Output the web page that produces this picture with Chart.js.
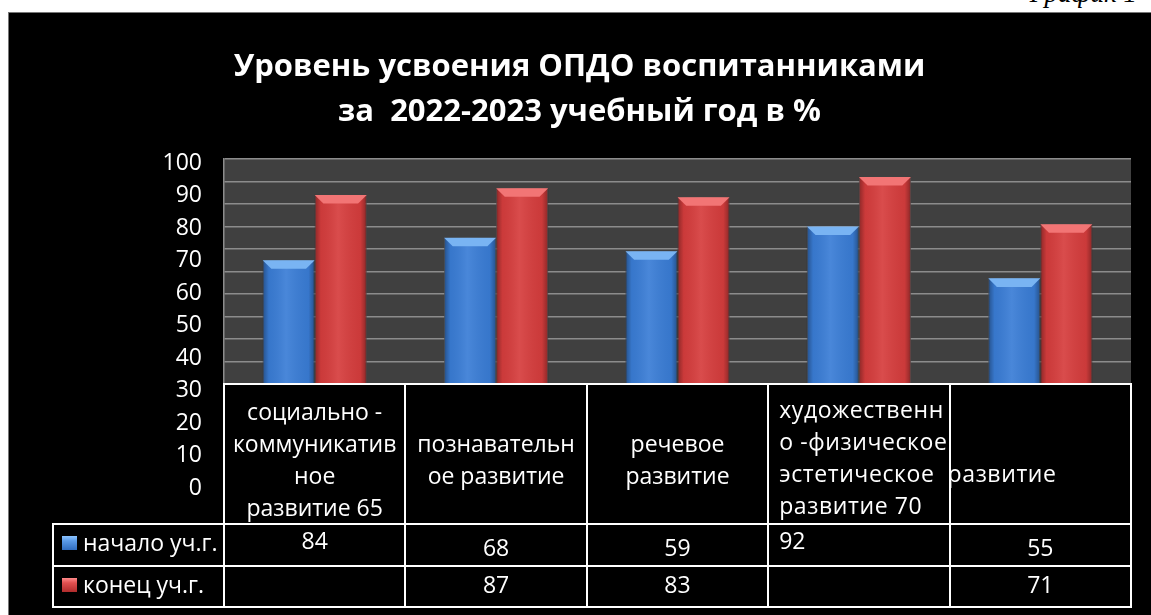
<!DOCTYPE html>
<html>
<head>
<meta charset="utf-8">
<script src="https://cdn.jsdelivr.net/npm/chart.js@4.4.0/dist/chart.umd.min.js"></script>
<style>
html,body{margin:0;padding:0;background:#fff;}
body{width:1151px;height:615px;position:relative;overflow:hidden;font-family:"Open Sans",sans-serif;}
#caption{position:absolute;right:14px;top:-20px;font:italic 27px "Liberation Serif",serif;color:#000;line-height:27px;}
#frame{position:absolute;left:8px;top:12px;width:1143px;height:603px;background:#000;box-shadow:inset 1px 1px 0 #777;}
#main{position:absolute;left:0;top:0;}
#tickWrap{position:absolute;left:114px;top:121px;width:82px;height:385px;}
.cell{position:absolute;box-sizing:border-box;border:2px solid #fff;color:#fff;font-size:23px;}
.head{display:flex;flex-direction:column;justify-content:center;padding-top:10px;text-align:center;line-height:32px;}
.head.left{justify-content:flex-start;text-align:left;padding-left:10px;padding-top:8px;letter-spacing:0.6px;}
.head.flush{padding-left:0;text-indent:-3px;}
.val{text-align:center;line-height:36px;padding-top:4px;}
.val.raised{padding-top:0;line-height:30px;}
.val.left{text-align:left;padding-left:10px;}
.val.r2{line-height:34px;padding-top:0;}
.key{padding-left:8px;line-height:34px;white-space:nowrap;}
.sw{display:inline-block;width:15px;height:14px;margin-right:6px;vertical-align:1px;}
</style>
</head>
<body>
<div id="caption">График 1</div>
<div id="frame">
  <canvas id="main" width="1143" height="603"></canvas>
  <div id="tickWrap"><canvas id="ticks" width="82" height="385"></canvas></div>
</div>
<script>
// data
const categories = ['социально - коммуникативное развитие 65', 'познавательное развитие', 'речевое развитие', 'художественно -физическое эстетическое развитие 70', 'развитие'];
const headerLines = [
  ['социально -', 'коммуникатив', 'ное', 'развитие 65'],
  ['познавательн', 'ое развитие'],
  ['речевое', 'развитие'],
  ['художественн', 'о -физическое', 'эстетическое', 'развитие 70'],
  ['', '', 'развитие']
];
const seriesNames = ['начало уч.г.', 'конец уч.г.'];
const startBars = [55, 65, 59, 70, 47];
const endBars = [84, 87, 83, 92, 71];
const tableStart = ['84', '68', '59', '92', '55'];
const tableEnd = ['', '87', '83', '', '71'];
const yMin = 0, yMax = 100, yStep = 10;

const FONT = '"Open Sans", sans-serif';

// plot background
const plotBg = {
  id: 'plotBg',
  beforeDraw(chart) {
    const a = chart.chartArea, ctx = chart.ctx;
    ctx.save();
    ctx.fillStyle = '#404040';
    ctx.fillRect(a.left, a.top, a.right - a.left, a.bottom - a.top);
    ctx.restore();
  }
};

// glossy look + bevelled cap on each bar
const bevel = {
  id: 'bevel',
  afterDatasetsDraw(chart) {
    const ctx = chart.ctx;
    chart.data.datasets.forEach((ds, di) => {
      chart.getDatasetMeta(di).data.forEach(bar => {
        const l = bar.x - bar.width / 2, r = bar.x + bar.width / 2;
        const g = ctx.createLinearGradient(l, 0, r, 0);
        g.addColorStop(0, 'rgba(0,0,0,0.35)');
        g.addColorStop(0.12, 'rgba(0,0,0,0.05)');
        g.addColorStop(0.45, 'rgba(255,255,255,0.08)');
        g.addColorStop(0.88, 'rgba(0,0,0,0.05)');
        g.addColorStop(1, 'rgba(0,0,0,0.35)');
        ctx.save();
        ctx.fillStyle = g;
        ctx.fillRect(l, bar.y, bar.width, bar.base - bar.y);
        const d = Math.min(9, bar.width / 6);
        ctx.beginPath();
        ctx.moveTo(l, bar.y);
        ctx.lineTo(r, bar.y);
        ctx.lineTo(r - d, bar.y + d);
        ctx.lineTo(l + d, bar.y + d);
        ctx.closePath();
        ctx.fillStyle = ds.capColor;
        ctx.fill();
        ctx.restore();
      });
    });
  }
};

const chart = new Chart(document.getElementById('main'), {
  type: 'bar',
  data: {
    labels: categories,
    datasets: [
      {label: seriesNames[0], data: startBars, backgroundColor: '#3a7dd6', borderColor: 'rgba(110,130,160,0.8)', borderWidth: 1, capColor: '#79b4f3'},
      {label: seriesNames[1], data: endBars, backgroundColor: '#d63d3d', borderColor: 'rgba(160,110,110,0.8)', borderWidth: 1, capColor: '#f27575'}
    ]
  },
  options: {
    responsive: false,
    animation: false,
    layout: {padding: {left: 0, right: 0, top: 0, bottom: 231}},
    datasets: {bar: {categoryPercentage: 0.574, barPercentage: 1}},
    plugins: {
      legend: {display: false},
      tooltip: {enabled: false},
      title: {
        display: true,
        text: ['Уровень усвоения ОПДО воспитанниками', 'за  2022-2023 учебный год в %'],
        color: '#fff',
        font: {family: FONT, size: 31, weight: 'bold', lineHeight: 1.45},
        padding: {top: 33, bottom: 24}
      }
    },
    scales: {
      x: {display: false},
      y: {
        min: yMin, max: yMax,
        ticks: {display: false, stepSize: yStep},
        grid: {color: '#8c8c8c', lineWidth: 1.5, drawTicks: false},
        border: {color: '#8c8c8c', width: 1.5},
        afterFit(s) { s.width = 216; }
      },
      yr: {
        position: 'right', min: yMin, max: yMax,
        ticks: {display: false}, grid: {display: false}, border: {display: false},
        afterFit(s) { s.width = 20; }
      }
    }
  },
  plugins: [plotBg, bevel]
});

// value axis labels (drawn on their own, spread wider than the plot like in the original)
new Chart(document.getElementById('ticks'), {
  type: 'bar',
  data: {labels: [''], datasets: []},
  options: {
    responsive: false,
    animation: false,
    layout: {padding: {top: 30, bottom: 30, left: 0, right: 0}},
    plugins: {legend: {display: false}, tooltip: {enabled: false}},
    scales: {
      x: {display: false},
      y: {
        min: yMin, max: yMax,
        ticks: {stepSize: yStep, color: '#fff', padding: 0, font: {family: FONT, size: 23}},
        grid: {display: false, drawTicks: false},
        border: {display: false},
        afterFit(s) { s.width = 80; }
      }
    }
  }
});

// data table under the plot, columns follow the category scale
const frame = document.getElementById('frame');
const area = chart.chartArea;
const colW = (area.right - area.left) / categories.length;
const headTop = area.bottom, headH = 140, rowH = [42, 41], keyLeft = 45;

function cell(l, t, w, h, cls) {
  const d = document.createElement('div');
  d.className = 'cell ' + cls;
  d.style.left = (l - 1) + 'px';
  d.style.top = (t - 1) + 'px';
  d.style.width = (w + 2) + 'px';
  d.style.height = (h + 2) + 'px';
  frame.appendChild(d);
  return d;
}

headerLines.forEach((lines, i) => {
  const cls = i === 3 ? 'head left' : i === 4 ? 'head left flush' : 'head';
  const d = cell(area.left + i * colW, headTop, colW, headH, cls);
  lines.forEach(t => {
    const ln = document.createElement('div');
    ln.textContent = t || '\u00a0';
    ln.style.whiteSpace = 'nowrap';
    d.appendChild(ln);
  });
});

const rows = [tableStart, tableEnd];
const swatches = ['linear-gradient(180deg,#8cc4ff 0,#5a9ae8 35%,#2f6cc0 100%)', 'linear-gradient(180deg,#ff8a8a 0,#e05050 35%,#b02c2c 100%)'];
let rowTop = headTop + headH;
rows.forEach((vals, r) => {
  const k = cell(keyLeft, rowTop, area.left - keyLeft, rowH[r], 'key');
  const sw = document.createElement('span');
  sw.className = 'sw';
  sw.style.background = swatches[r];
  k.appendChild(sw);
  k.appendChild(document.createTextNode(seriesNames[r]));
  vals.forEach((v, i) => {
    let cls = 'val';
    if (r === 0 && (i === 0 || i === 3)) cls += ' raised';
    if (i === 3) cls += ' left';
    if (r === 1) cls += ' r2';
    const d = cell(area.left + i * colW, rowTop, colW, rowH[r], cls);
    d.textContent = v;
  });
  rowTop += rowH[r];
});
</script>
</body>
</html>
